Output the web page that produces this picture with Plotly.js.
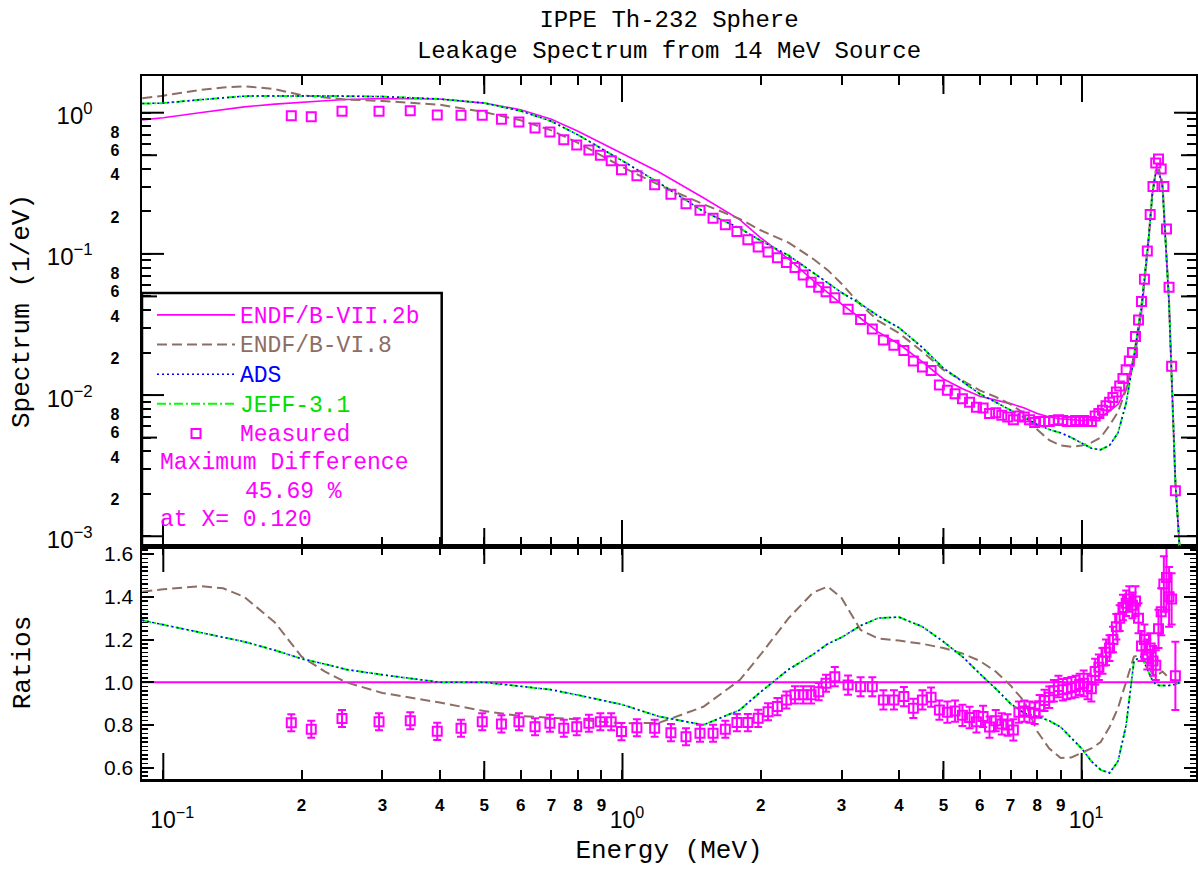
<!DOCTYPE html>
<html>
<head>
<meta charset="utf-8">
<script src="https://cdn.plot.ly/plotly-3.0.1.min.js"></script>
<style>html,body{margin:0;padding:0;background:#fff}#plot{width:1198px;height:870px}</style>
</head>
<body>
<div id="plot"></div>
<script>
// ---------- data ----------
const E_CURVE = [0.09, 0.1, 0.12, 0.135, 0.15, 0.175, 0.2, 0.225, 0.25, 0.3, 0.4, 0.5, 0.6, 0.7, 0.8, 0.9, 1.0, 1.2, 1.5, 1.8, 2.0, 2.3, 2.6, 2.8, 3.0, 3.3, 3.6, 4.0, 4.5, 5.0, 5.5, 6.0, 6.5, 7.0, 7.5, 8.0, 8.5, 9.0, 9.5, 10, 10.5, 11, 11.5, 12, 12.5, 13, 13.5, 14, 14.25, 14.5, 14.75, 15, 15.5, 16, 16.4];

const SPEC_VII2B = [0.89, 0.92, 1.00, 1.05, 1.10, 1.15, 1.19, 1.215, 1.24, 1.26, 1.25, 1.17, 1.05, 0.90, 0.74, 0.61, 0.51, 0.38, 0.25, 0.175, 0.130, 0.092, 0.065, 0.053, 0.044, 0.035, 0.028, 0.023, 0.0172, 0.0130, 0.0111, 0.0098, 0.0092, 0.0087, 0.0081, 0.0074, 0.0070, 0.0068, 0.0067, 0.0066, 0.0067, 0.0070, 0.0077, 0.0086, 0.011, 0.017, 0.038, 0.125, 0.26, 0.38, 0.38, 0.30, 0.045, 0.0024, 0.0007];

const SPEC_VI8 = [1.267, 1.32, 1.45, 1.51, 1.54, 1.47, 1.33, 1.28, 1.24, 1.21, 1.14, 1.01, 0.884, 0.75, 0.611, 0.497, 0.412, 0.308, 0.225, 0.177, 0.147, 0.120, 0.0923, 0.0767, 0.0614, 0.0436, 0.0337, 0.0275, 0.0203, 0.0151, 0.0126, 0.0108, 0.0097, 0.0086, 0.0074, 0.0057, 0.0048, 0.0044, 0.0043, 0.0044, 0.0046, 0.0050, 0.0061, 0.0076, 0.011, 0.019, 0.043, 0.134, 0.27, 0.39, 0.395, 0.315, 0.046, 0.0024, 0.0007];

const SPEC_ADS = [1.16, 1.17, 1.235, 1.27, 1.31, 1.315, 1.32, 1.315, 1.31, 1.30, 1.25, 1.17, 1.03, 0.87, 0.696, 0.558, 0.456, 0.319, 0.200, 0.152, 0.124, 0.0975, 0.0735, 0.0625, 0.0532, 0.0443, 0.0364, 0.030, 0.0217, 0.0155, 0.0124, 0.0102, 0.0089, 0.0078, 0.0069, 0.0062, 0.0057, 0.0054, 0.0050, 0.0046, 0.0042, 0.0041, 0.0044, 0.0054, 0.0088, 0.0187, 0.0426, 0.131, 0.263, 0.376, 0.374, 0.296, 0.0443, 0.0024, 0.0007];

const SPEC_JEFF = [1.16, 1.17, 1.235, 1.27, 1.31, 1.315, 1.32, 1.315, 1.31, 1.30, 1.25, 1.17, 1.03, 0.87, 0.696, 0.558, 0.456, 0.319, 0.200, 0.152, 0.124, 0.0975, 0.0735, 0.0625, 0.0532, 0.0443, 0.0364, 0.030, 0.0217, 0.0155, 0.0124, 0.0102, 0.0089, 0.0078, 0.0069, 0.0062, 0.0057, 0.0054, 0.0050, 0.0046, 0.0042, 0.0041, 0.0044, 0.0054, 0.0088, 0.0187, 0.0426, 0.131, 0.263, 0.376, 0.374, 0.296, 0.0443, 0.0024, 0.0007];

const RATIO_VI8 = [1.424, 1.435, 1.45, 1.44, 1.40, 1.28, 1.12, 1.05, 1.00, 0.95, 0.905, 0.865, 0.842, 0.833, 0.826, 0.815, 0.808, 0.81, 0.885, 1.01, 1.13, 1.30, 1.42, 1.448, 1.395, 1.245, 1.205, 1.195, 1.18, 1.16, 1.135, 1.10, 1.05, 0.985, 0.91, 0.77, 0.69, 0.645, 0.648, 0.67, 0.69, 0.72, 0.79, 0.88, 1.00, 1.12, 1.13, 1.07, 1.04, 1.03, 1.04, 1.05, 1.02, 1.0, 1.0];

const RATIO_ADS = [1.29, 1.27, 1.235, 1.21, 1.19, 1.15, 1.11, 1.085, 1.06, 1.035, 1.0, 1.0, 0.98, 0.965, 0.94, 0.915, 0.895, 0.84, 0.80, 0.87, 0.955, 1.06, 1.13, 1.18, 1.21, 1.265, 1.30, 1.305, 1.26, 1.19, 1.12, 1.04, 0.97, 0.90, 0.855, 0.84, 0.82, 0.79, 0.74, 0.69, 0.63, 0.59, 0.575, 0.63, 0.80, 1.10, 1.12, 1.05, 1.01, 0.99, 0.985, 0.985, 0.985, 0.99, 1.0];

const RATIO_JEFF = [1.29, 1.27, 1.235, 1.21, 1.19, 1.15, 1.11, 1.085, 1.06, 1.035, 1.0, 1.0, 0.98, 0.965, 0.94, 0.915, 0.895, 0.84, 0.80, 0.87, 0.955, 1.06, 1.13, 1.18, 1.21, 1.265, 1.30, 1.305, 1.26, 1.19, 1.12, 1.04, 0.97, 0.90, 0.855, 0.84, 0.82, 0.79, 0.74, 0.69, 0.63, 0.59, 0.575, 0.63, 0.80, 1.10, 1.12, 1.05, 1.01, 0.99, 0.985, 0.985, 0.985, 0.99, 1.0];

const E_REF = [0.09, 16.4];
const RATIO_VII2B = [1.0, 1.0];

const E_MEAS = [0.19, 0.21, 0.245, 0.295, 0.345, 0.395, 0.445, 0.495, 0.545, 0.595, 0.645, 0.695, 0.745, 0.795, 0.845, 0.895, 0.945, 0.995,
  1.075, 1.175, 1.275, 1.375, 1.475, 1.575, 1.675, 1.775, 1.875, 1.975, 2.075, 2.175, 2.275, 2.375, 2.475, 2.575, 2.675, 2.775,
  2.9, 3.1, 3.3, 3.5, 3.7, 3.9, 4.1, 4.3, 4.5, 4.7, 4.9, 5.1, 5.3, 5.5, 5.7, 5.9, 6.1, 6.3, 6.5, 6.7, 6.9, 7.1, 7.3, 7.5, 7.7, 7.9,
  8.1, 8.3, 8.5, 8.7, 8.9, 9.1, 9.3, 9.5, 9.7, 9.9, 10.1, 10.3, 10.5, 10.7, 10.9, 11.1, 11.3, 11.5, 11.7, 11.9, 12.1, 12.3, 12.5,
  12.7, 12.9, 13.1, 13.3, 13.5, 13.7, 13.9, 14.1, 14.3, 14.5, 14.7, 14.9, 15.1, 15.3, 15.5, 15.7, 16.0];

const SPEC_MEAS = [0.95, 0.935, 1.025, 1.025, 1.033, 0.963, 0.958, 0.958, 0.90, 0.86, 0.78, 0.731, 0.644, 0.59, 0.545, 0.50, 0.456, 0.395,
  0.358, 0.309, 0.264, 0.227, 0.204, 0.179, 0.161, 0.144, 0.126, 0.112, 0.103, 0.094, 0.087, 0.080, 0.071, 0.063, 0.058, 0.054,
  0.049, 0.0405, 0.0343, 0.0294, 0.0246, 0.0225, 0.0207, 0.0174, 0.0158, 0.0149, 0.0118, 0.0108, 0.0102, 0.0094, 0.0089, 0.0082,
  0.0081, 0.0074, 0.0075, 0.0072, 0.0070, 0.0067, 0.0071, 0.0070, 0.0067, 0.0064, 0.0065, 0.0065, 0.0065, 0.0066, 0.0067, 0.0066,
  0.0065, 0.0065, 0.0066, 0.0065, 0.0066, 0.0065, 0.0065, 0.0071, 0.0074, 0.0078, 0.0084, 0.0089, 0.0096, 0.0105, 0.0116, 0.0131,
  0.0151, 0.0174, 0.020, 0.026, 0.034, 0.046, 0.066, 0.105, 0.19, 0.30, 0.44, 0.47, 0.40, 0.30, 0.15, 0.058, 0.016, 0.0021];

const RATIO_MEAS = [0.81, 0.78, 0.83, 0.815, 0.82, 0.77, 0.785, 0.815, 0.805, 0.815, 0.792, 0.808, 0.785, 0.792, 0.808, 0.815, 0.815, 0.769,
  0.787, 0.785, 0.764, 0.745, 0.761, 0.761, 0.780, 0.811, 0.811, 0.831, 0.862, 0.886, 0.917, 0.941, 0.941, 0.941, 0.956, 0.995,
  1.026, 0.987, 0.979, 0.979, 0.917, 0.917, 0.933, 0.878, 0.917, 0.93, 0.87, 0.86, 0.865, 0.845, 0.835, 0.815, 0.84, 0.79, 0.82,
  0.805, 0.80, 0.777, 0.86, 0.865, 0.86, 0.855, 0.89, 0.915, 0.93, 0.96, 0.98, 0.965, 0.97, 0.975, 0.98, 0.99, 0.995, 0.98, 0.97,
  1.05, 1.07, 1.10, 1.14, 1.16, 1.20, 1.26, 1.30, 1.35, 1.37, 1.39, 1.36, 1.38, 1.30, 1.17, 1.20, 1.13, 1.16, 1.10, 1.08, 1.25,
  1.33, 1.46, 1.49, 1.40, 1.39, 1.03];

const ERR_MEAS = [0.04, 0.04, 0.04, 0.04, 0.04, 0.04, 0.04, 0.04, 0.04, 0.04, 0.04, 0.04, 0.04, 0.04, 0.04, 0.04, 0.04, 0.04,
  0.04, 0.04, 0.04, 0.04, 0.04, 0.04, 0.04, 0.04, 0.04, 0.04, 0.04, 0.04, 0.04, 0.04, 0.04, 0.04, 0.04, 0.04,
  0.045, 0.045, 0.045, 0.045, 0.045, 0.045, 0.045, 0.045, 0.045, 0.045, 0.045,
  0.05, 0.05, 0.05, 0.05, 0.05, 0.05, 0.05, 0.05, 0.05, 0.05, 0.05, 0.05, 0.05, 0.05, 0.05, 0.05, 0.05, 0.05, 0.05, 0.05, 0.05, 0.05, 0.05, 0.05, 0.05,
  0.06, 0.06, 0.06, 0.06, 0.06, 0.06, 0.06, 0.06, 0.06, 0.06, 0.06, 0.06, 0.06, 0.06, 0.06,
  0.07, 0.07, 0.07, 0.07, 0.07, 0.07, 0.07, 0.07,
  0.09, 0.11, 0.13, 0.15, 0.14, 0.12, 0.16];

// tick values / labels
const X_DECADES = [0.1, 1, 10];
const X_HALF = [0.5, 5];
const X_DIGITS = [0.2, 0.3, 0.4, 0.5, 0.6, 0.7, 0.8, 0.9, 2, 3, 4, 5, 6, 7, 8, 9];
const X_LABEL_VALS = [0.1, 0.2, 0.3, 0.4, 0.5, 0.6, 0.7, 0.8, 0.9, 1, 2, 3, 4, 5, 6, 7, 8, 9, 10];
const X_LABEL_TEXT = ['10|\u22121', '2', '3', '4', '5', '6', '7', '8', '9', '10|0', '2', '3', '4', '5', '6', '7', '8', '9', '10|1'];
const Y_DECADES = [0.001, 0.01, 0.1, 1];
const Y_HALF = [0.005, 0.05, 0.5];
const Y_LABEL_VALS = [0.001, 0.002, 0.004, 0.006, 0.008, 0.01, 0.02, 0.04, 0.06, 0.08, 0.1, 0.2, 0.4, 0.6, 0.8, 1];
const Y_LABEL_TEXT = ['10|\u22123', '2', '4', '6', '8', '10|\u22122', '2', '4', '6', '8', '10|\u22121', '2', '4', '6', '8', '10|0'];
const Y_MINOR = [0.003, 0.005, 0.007, 0.009, 0.03, 0.05, 0.07, 0.09, 0.3, 0.5, 0.7, 0.9];
const R_TICKS = [0.6, 0.8, 1.0, 1.2, 1.4, 1.6];
const R_TICK_TEXT = ['0.6', '0.8', '1.0', '1.2', '1.4', '1.6'];

// ---------- styling / layout ----------
const MAG = '#ff00ff', BROWN = '#8c6e64', BLUE = '#0000ff', GREEN = '#00ff00';
const MONO = 'Liberation Mono, Courier New, monospace';
const SANS = 'Liberation Sans, Arial, sans-serif';
const NB = '\u00a0';
const H = 870, BOT = 91, TOP = 76;
const plotH = H - BOT - TOP;
const SPLIT = (779 - 546) / plotH;
const XR = [-1.0464, 1.249];
const YR = [-3.069, 0.26];
const BOT_H = 233, TOP_H = 470, PLOT_W = 1054;

// format "10|e" into power-of-ten markup
function xLabel(t) {
  if (t.indexOf('|') < 0) return '<span style="font-size:17px">' + t + '</span>';
  const p = t.split('|');
  const pad = NB.repeat(p[1].length > 1 ? 4 : 2);
  return '<br><span style="font-size:23px;font-weight:normal"><sup>' + pad + '</sup>' + p[0] + '<sup>' + p[1] + '</sup></span>';
}
function yLabel(t) {
  if (t.indexOf('|') < 0) return t;
  const p = t.split('|');
  return '<span style="font-size:24px;font-weight:normal">' + p[0] + '<sup>' + p[1] + '</sup>' + NB + NB + NB + NB + '</span>';
}
const xTickText = X_LABEL_TEXT.map(xLabel);
const yTickText = Y_LABEL_TEXT.map(yLabel);

function legendName(txt, col) { return '<span style="color:' + col + ';font-size:23px">' + txt + '</span>'; }

const traces = [
  {x: E_CURVE, y: SPEC_VII2B, xaxis: 'x2', yaxis: 'y2', mode: 'lines', name: legendName('ENDF/B-VII.2b', MAG), legendrank: 1,
   line: {color: MAG, width: 1.6}},
  {x: E_CURVE, y: SPEC_VI8, xaxis: 'x2', yaxis: 'y2', mode: 'lines', name: legendName('ENDF/B-VI.8', BROWN), legendrank: 2,
   line: {color: BROWN, width: 2, dash: '10px,5px'}},
  {x: E_CURVE, y: SPEC_JEFF, xaxis: 'x2', yaxis: 'y2', mode: 'lines', name: legendName('JEFF-3.1', '#00e000'), legendrank: 4,
   line: {color: GREEN, width: 2, dash: '9px,3px,2px,3px'}},
  {x: E_CURVE, y: SPEC_ADS, xaxis: 'x2', yaxis: 'y2', mode: 'lines', name: legendName('ADS', BLUE), legendrank: 3,
   line: {color: BLUE, width: 1.5, dash: '2px,3px'}},
  {x: E_MEAS, y: SPEC_MEAS, xaxis: 'x2', yaxis: 'y2', mode: 'markers', name: legendName('Measured', MAG), legendrank: 5,
   marker: {symbol: 'square-open', size: 9, color: MAG, line: {width: 2, color: MAG}}},

  {x: E_REF, y: RATIO_VII2B, xaxis: 'x', yaxis: 'y', mode: 'lines', showlegend: false, line: {color: MAG, width: 2}},
  {x: E_CURVE, y: RATIO_VI8, xaxis: 'x', yaxis: 'y', mode: 'lines', showlegend: false, line: {color: BROWN, width: 2, dash: '10px,5px'}},
  {x: E_CURVE, y: RATIO_JEFF, xaxis: 'x', yaxis: 'y', mode: 'lines', showlegend: false, line: {color: GREEN, width: 2, dash: '9px,3px,2px,3px'}},
  {x: E_CURVE, y: RATIO_ADS, xaxis: 'x', yaxis: 'y', mode: 'lines', showlegend: false, line: {color: BLUE, width: 1.5, dash: '2px,3px'}},
  {x: E_MEAS, y: RATIO_MEAS, xaxis: 'x', yaxis: 'y', mode: 'markers', showlegend: false,
   marker: {symbol: 'square-open', size: 9, color: MAG, line: {width: 2, color: MAG}},
   error_y: {type: 'data', array: ERR_MEAS, visible: true, color: MAG, thickness: 2, width: 4}}
];

const frame = {showline: true, linecolor: 'black', linewidth: 2.5, mirror: 'ticks', ticks: 'inside',
  tickcolor: 'black', tickwidth: 2, showgrid: false, zeroline: false, fixedrange: true};

// long (decade) and medium (half-decade) tick marks: axis decoration
const shapes = [];
function xTick(v, xref, yref, len, h) {
  shapes.push({type: 'line', xref: xref, yref: yref, x0: v, x1: v, y0: 0, y1: len / h, line: {color: 'black', width: 2}});
  shapes.push({type: 'line', xref: xref, yref: yref, x0: v, x1: v, y0: 1 - len / h, y1: 1, line: {color: 'black', width: 2}});
}
function yTick(v, len) {
  shapes.push({type: 'line', xref: 'x2 domain', yref: 'y2', x0: 0, x1: len / PLOT_W, y0: v, y1: v, line: {color: 'black', width: 2}});
  shapes.push({type: 'line', xref: 'x2 domain', yref: 'y2', x0: 1 - len / PLOT_W, x1: 1, y0: v, y1: v, line: {color: 'black', width: 2}});
}
X_DECADES.forEach(v => xTick(v, 'x', 'y domain', 26, BOT_H));
X_HALF.forEach(v => xTick(v, 'x', 'y domain', 18, BOT_H));
X_HALF.forEach(v => xTick(v, 'x2', 'y2 domain', 18, TOP_H));
Y_DECADES.forEach(v => yTick(v, 22));
Y_HALF.forEach(v => yTick(v, 15));
// legend frame
shapes.push({type: 'rect', xref: 'paper', yref: 'paper', x0: 0, x1: (441.7 - 142) / PLOT_W, y0: SPLIT, y1: (779 - 293) / plotH,
  line: {color: 'black', width: 2.5}, fillcolor: 'rgba(0,0,0,0)', layer: 'above'});

const layout = {
  width: 1198, height: 870,
  margin: {l: 142, r: 2, t: TOP, b: BOT},
  paper_bgcolor: 'white', plot_bgcolor: 'white',
  showlegend: true,
  title: {text: 'IPPE Th-232 Sphere<br>Leakage Spectrum from 14 MeV Source',
    font: {family: MONO, size: 24, color: 'black'}, x: 0.5, xref: 'paper', xanchor: 'center',
    y: 0.969, yref: 'container', yanchor: 'top'},
  xaxis: Object.assign({}, frame, {type: 'log', range: XR, anchor: 'y', domain: [0, 1],
    tickmode: 'array', tickvals: X_LABEL_VALS, ticktext: xTickText, ticklen: 9, tickangle: 0,
    tickfont: {family: SANS, size: 13, color: 'black', weight: 'bold'}, ticklabelstandoff: 14,
    title: {text: 'Energy (MeV)', font: {family: MONO, size: 26, color: 'black'}, standoff: 8}}),
  xaxis2: Object.assign({}, frame, {type: 'log', range: XR, anchor: 'y2', domain: [0, 1],
    tickmode: 'array', tickvals: X_DECADES, showticklabels: false, ticklen: 26,
    minor: {tickmode: 'array', tickvals: X_DIGITS, ticklen: 9, tickwidth: 2, tickcolor: 'black', ticks: 'inside'}}),
  yaxis: Object.assign({}, frame, {domain: [0, SPLIT], range: [0.547, 1.638], anchor: 'x',
    tickmode: 'array', tickvals: R_TICKS, ticktext: R_TICK_TEXT, ticklen: 12,
    minor: {dtick: 0.02, tick0: 0, ticklen: 6, tickwidth: 1.5, tickcolor: 'black', ticks: 'inside'},
    tickfont: {family: SANS, size: 21, color: 'black'}, ticklabelstandoff: 2,
    title: {text: 'Ratios', font: {family: MONO, size: 26, color: 'black'}, standoff: 66}}),
  yaxis2: Object.assign({}, frame, {type: 'log', domain: [SPLIT, 1], range: YR, anchor: 'x2',
    tickmode: 'array', tickvals: Y_LABEL_VALS, ticktext: yTickText, ticklen: 9,
    minor: {tickmode: 'array', tickvals: Y_MINOR, ticklen: 9, tickwidth: 2, tickcolor: 'black', ticks: 'inside'},
    tickfont: {family: SANS, size: 16, color: 'black', weight: 'bold'}, ticklabelstandoff: 17, ticklabelshift: 6,
    title: {text: 'Spectrum (1/eV)', font: {family: MONO, size: 26, color: 'black'}, standoff: 10}}),
  legend: {x: (152 - 142) / PLOT_W, y: (779 - 295) / plotH, xanchor: 'left', yanchor: 'top', bgcolor: 'rgba(0,0,0,0)',
    borderwidth: 0, itemwidth: 78, font: {family: MONO, size: 20.5, color: 'black'}, traceorder: 'normal', tracegroupgap: 0},
  shapes: shapes,
  annotations: [
    {text: 'Maximum Difference', xref: 'paper', yref: 'paper', x: (158 - 142) / PLOT_W, y: (779 - 462.7) / plotH,
     xanchor: 'left', yanchor: 'middle', showarrow: false, font: {family: MONO, size: 23, color: MAG}},
    {text: '45.69 %', xref: 'paper', yref: 'paper', x: (243 - 142) / PLOT_W, y: (779 - 491.7) / plotH,
     xanchor: 'left', yanchor: 'middle', showarrow: false, font: {family: MONO, size: 23, color: MAG}},
    {text: 'at X= 0.120', xref: 'paper', yref: 'paper', x: (158 - 142) / PLOT_W, y: (779 - 520) / plotH,
     xanchor: 'left', yanchor: 'middle', showarrow: false, font: {family: MONO, size: 23, color: MAG}}
  ]
};

Plotly.newPlot('plot', traces, layout, {displayModeBar: false, staticPlot: true});
</script>
</body>
</html>
